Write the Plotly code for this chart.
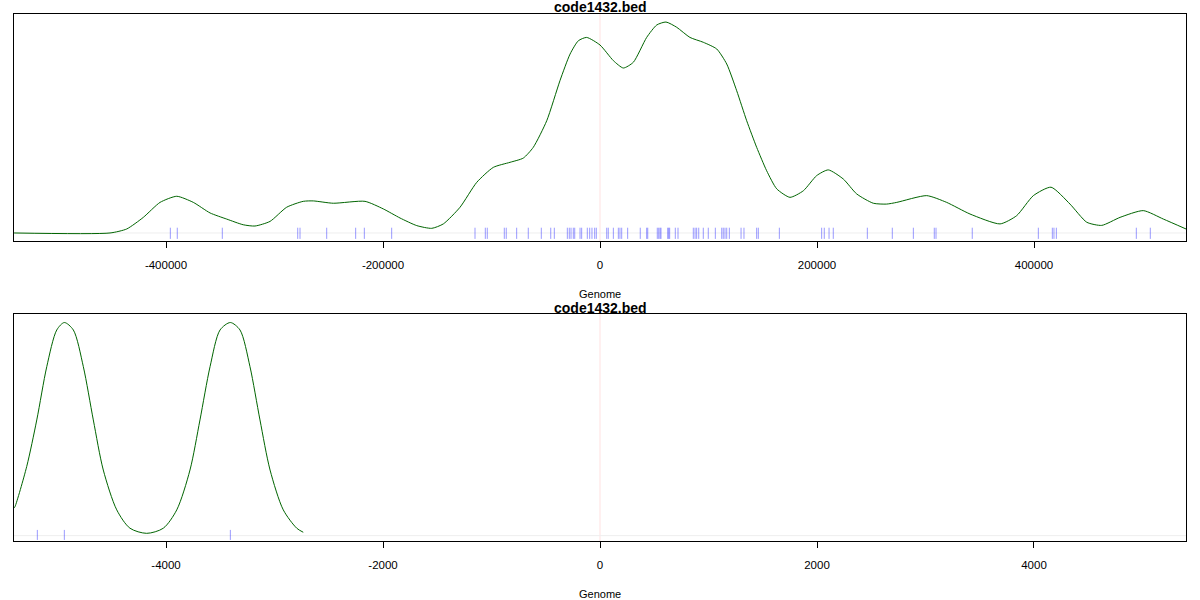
import plotly.graph_objects as go

# ---------------- data ----------------
title_text = "code1432.bed"
axis_title = "Genome"

# top panel: density curve (genome position, scaled density)
top_curve_x = [-540000, -451600, -436200, -420900, -405500, -390100, -374800, -359400,
               -344100, -328800, -318000, -304100, -288800, -273500, -264200, -245800,
               -216600, -199700, -184300, -168900, -155100, -144400, -129000, -113600,
               -98300, -82900, -70700, -61500, -49100, -36900, -27600, -20000, -12300,
               0, 12300, 21500, 30700, 43000, 52300, 60800, 70700, 82900, 95200,
               107600, 116800, 126000, 135200, 144400, 153600, 162900, 175100, 187400,
               199700, 210400, 224200, 236600, 251900, 264200, 273500, 301100, 319500,
               341000, 368700, 384000, 399400, 415700, 433200, 448600, 462400, 479300,
               500700, 519200, 540100]
top_curve_y = [0.000, 0.000, 0.019, 0.074, 0.145, 0.174, 0.145, 0.095,
               0.066, 0.039, 0.033, 0.055, 0.122, 0.150, 0.152, 0.141,
               0.150, 0.114, 0.071, 0.035, 0.022, 0.043, 0.122, 0.240,
               0.311, 0.335, 0.355, 0.406, 0.532, 0.722, 0.848, 0.911, 0.927,
               0.891, 0.817, 0.782, 0.809, 0.927, 0.986, 1.000, 0.975, 0.927, 0.904,
               0.872, 0.801, 0.674, 0.532, 0.406, 0.295, 0.209, 0.169, 0.200,
               0.272, 0.299, 0.256, 0.185, 0.141, 0.137, 0.145, 0.177, 0.145,
               0.090, 0.043, 0.082, 0.177, 0.217, 0.137, 0.051, 0.036, 0.074,
               0.106, 0.066, 0.019]

# top panel: feature positions (rug)
top_rug = [-396000, -389600, -348100, -278600, -276500, -251900, -225200, -217200, -192000,
           -115200, -105700, -103900, -88200, -86400, -76800, -66100, -54100, -45400, -42100,
           -30100, -28300, -26700, -24600, -23300, -18400, -16900, -11700, -9500, -7400,
           -4900, -3400, 6200, 7600, 12300, 16900, 18400, 20000, 25500, 37100, 43000, 44000,
           52800, 54100, 55300, 56200, 62400, 63300, 64200, 69400, 71900, 86000, 87600,
           89100, 91000, 95200, 99800, 106300, 112200, 113600, 115200, 116800, 119200,
           130000, 132700, 144400, 145900, 165300,
           204300, 206700, 211100, 215000, 246400, 269400, 288800, 308100, 309700, 343100,
           404000, 416900, 418400, 420600, 494300, 507200]

top_ticks = [-400000, -200000, 0, 200000, 400000]

# bottom panel
bot_curve_x = [-5400, -5392, -5284, -5191, -5099, -5007, -4937, -4854, -4762, -4670, -4578,
               -4454, -4332, -4178, -4025, -3901, -3779, -3687, -3594, -3502, -3407,
               -3318, -3226, -3134, -3041, -2919, -2795, -2735]
bot_curve_y = [0.130, 0.136, 0.324, 0.543, 0.793, 0.965, 1.000, 0.965, 0.793, 0.543, 0.308,
               0.121, 0.035, 0.011, 0.035, 0.121, 0.308, 0.543, 0.793, 0.965, 1.000,
               0.965, 0.793, 0.543, 0.308, 0.121, 0.035, 0.016]
bot_rug = [-5186, -4937, -3407]
bot_ticks = [-4000, -2000, 0, 2000, 4000]

# ---------------- styles ----------------
curve_color = "#006400"
rug_color = "rgba(0,0,255,0.4)"
font_family = "Liberation Sans, Arial, Helvetica, sans-serif"

W, H = 1200, 600
ML, MR, MT, MB = 14, 14, 14, 59
PH = H - MT - MB


def py2paper(py):
    return (H - MB - py) / PH


def rug_xy(vals, lo, hi):
    xs, ys = [], []
    for v in vals:
        xs += [v, v, None]
        ys += [lo, hi, None]
    return xs, ys


fig = go.Figure()

# top
rx, ry = rug_xy(top_rug, -0.028, 0.025)
fig.add_trace(go.Scatter(x=rx, y=ry, mode="lines", line=dict(color=rug_color, width=1),
                         xaxis="x", yaxis="y", hoverinfo="skip", showlegend=False))
fig.add_trace(go.Scatter(x=top_curve_x, y=top_curve_y, mode="lines",
                         line=dict(color=curve_color, width=1, shape="spline", smoothing=0.6),
                         xaxis="x", yaxis="y", showlegend=False))
# bottom
rx, ry = rug_xy(bot_rug, -0.020, 0.027)
fig.add_trace(go.Scatter(x=rx, y=ry, mode="lines", line=dict(color=rug_color, width=1),
                         xaxis="x2", yaxis="y2", hoverinfo="skip", showlegend=False))
fig.add_trace(go.Scatter(x=bot_curve_x, y=bot_curve_y, mode="lines",
                         line=dict(color=curve_color, width=1, shape="spline", smoothing=0.8),
                         xaxis="x2", yaxis="y2", showlegend=False))

top_dom = [py2paper(241), 1.0]
bot_dom = [0.0, py2paper(314)]

axis_common = dict(showgrid=False, zeroline=False, showline=True, linecolor="black",
                   linewidth=1, mirror=True, ticks="outside", ticklen=6, tickcolor="black",
                   tickfont=dict(family=font_family, size=11.5, color="black"),
                   ticklabelstandoff=7)
yaxis_common = dict(showgrid=False, zeroline=False, showline=True, linecolor="black",
                    linewidth=1, mirror=True, showticklabels=False, ticks="")

fig.update_layout(
    width=W, height=H, margin=dict(l=ML, r=MR, t=MT, b=MB),
    paper_bgcolor="white", plot_bgcolor="white", showlegend=False,
    xaxis=dict(domain=[0, 1], range=[-540092, 540092], tickvals=top_ticks,
               ticktext=[str(t) for t in top_ticks], anchor="y", **axis_common),
    yaxis=dict(domain=top_dom, range=[-0.038, 1.038], anchor="x", **yaxis_common),
    xaxis2=dict(domain=[0, 1], range=[-5401, 5401], tickvals=bot_ticks,
                ticktext=[str(t) for t in bot_ticks], anchor="y2", **axis_common),
    yaxis2=dict(domain=bot_dom, range=[-0.025, 1.040], anchor="x2", **yaxis_common),
)

shapes = []
for xr, yr in (("x", "y"), ("x2", "y2")):
    shapes.append(dict(type="line", xref=xr, yref=yr + " domain", x0=0, x1=0, y0=0, y1=1,
                       line=dict(color="rgba(255,0,0,0.12)", width=1), layer="below"))
    shapes.append(dict(type="line", xref=xr + " domain", yref=yr, x0=0, x1=1, y0=0, y1=0,
                       line=dict(color="#eeeeee", width=1), layer="below"))
fig.update_layout(shapes=shapes)

annots = []
for ty, gy in ((7, 294), (307.5, 594)):
    annots.append(dict(text="<b>" + title_text + "</b>", xref="paper", yref="paper",
                       x=0.5, y=py2paper(ty), xanchor="center", yanchor="middle",
                       showarrow=False, font=dict(family=font_family, size=14, color="black")))
    annots.append(dict(text=axis_title, xref="paper", yref="paper",
                       x=0.5, y=py2paper(gy), xanchor="center", yanchor="middle",
                       showarrow=False, font=dict(family=font_family, size=11, color="black")))
fig.update_layout(annotations=annots)

# remove the page's default 8px body margin so the figure sits at the top-left corner
fig.write_html("out.html", config={"displayModeBar": False},
               post_script="document.body.style.margin='0';document.body.style.overflow='hidden';")
